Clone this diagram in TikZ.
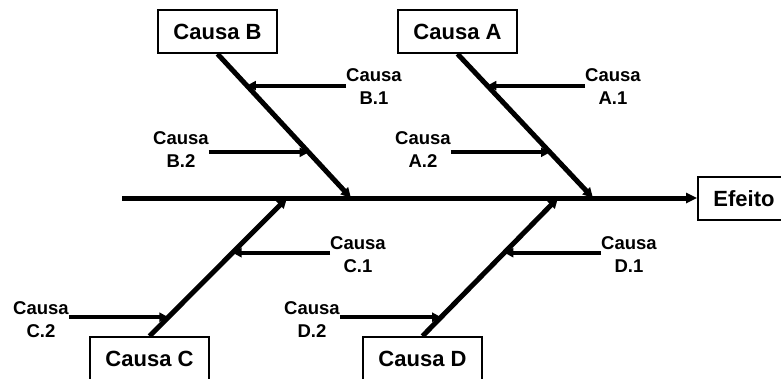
\documentclass[tikz,border=0pt]{standalone}
\usepackage{fontspec}
\setmainfont{Liberation Sans}
\usetikzlibrary{arrows.meta,calc}
\begin{document}
\begin{tikzpicture}[
	x=1pt, y=-1pt,
	font=\bfseries
]
\tikzset{
    boxnode/.style = {rectangle, draw=black, line width=1.8pt, minimum width=119pt, minimum height=43pt, inner sep=0pt, font={\bfseries\fontsize{22}{26}\selectfont}},
    lblnode/.style = {align=center, inner sep=0pt, font={\bfseries\fontsize{18.5}{23}\selectfont}},
    edgespine/.style = {-{Triangle[length=11pt,width=10pt]}, line width=5pt},
    edgebone/.style = {-{Triangle[length=10pt,width=10pt]}, line width=5pt},
    edgetwig/.style = {-{Triangle[length=9pt,width=9pt]}, line width=4pt},
}
\useasboundingbox (0,0) rectangle (781,378);
\clip (0,0) rectangle (781,378);
% boxes
\node[boxnode] at (217.5, 31.5) (cb) {Causa B};
\node[boxnode] at (457.5, 31.5) (ca) {Causa A};
\node[boxnode] at (149.5, 358.5) (cc) {Causa C};
\node[boxnode] at (422.5, 358.5) (cd) {Causa D};
\node[boxnode, minimum width=92pt] at (744, 198.5) (ef) {Efeito};
% spine
\coordinate (tail) at (122, 198);
\coordinate (jb) at (351, 198);
\coordinate (ja) at (593, 198);
\coordinate (jc) at (287, 198);
\coordinate (jd) at (558, 198);
\draw[edgespine] (tail) -- (tail -| ef.west);
%
\draw[edgebone] (cb.south) -- (jb);
\draw[edgebone] (ca.south) -- (ja);
\draw[edgebone] (cc.north) -- (jc);
\draw[edgebone] (cd.north) -- (jd);
% sub causes
\node[lblnode] at (374, 87) (b1) {Causa\\B.1};
\node[lblnode] at (181, 150) (b2) {Causa\\B.2};
\node[lblnode] at (613, 87) (a1) {Causa\\A.1};
\node[lblnode] at (423, 150) (a2) {Causa\\A.2};
\node[lblnode] at (358, 255) (c1) {Causa\\C.1};
\node[lblnode] at (41, 320) (c2) {Causa\\C.2};
\node[lblnode] at (629, 255) (d1) {Causa\\D.1};
\node[lblnode] at (312, 320) (d2) {Causa\\D.2};
%
\coordinate (pb1) at ($(cb.south)!0.22!(jb)$);
\coordinate (pb2) at ($(cb.south)!0.683!(jb)$);
\coordinate (pa1) at ($(ca.south)!0.22!(ja)$);
\coordinate (pa2) at ($(ca.south)!0.683!(ja)$);
\coordinate (pc1) at ($(cc.north)!0.604!(jc)$);
\coordinate (pc2) at ($(cc.north)!0.137!(jc)$);
\coordinate (pd1) at ($(cd.north)!0.604!(jd)$);
\coordinate (pd2) at ($(cd.north)!0.137!(jd)$);
%
\draw[edgetwig] (b1.west |- pb1) -- (pb1);
\draw[edgetwig] (b2.east |- pb2) -- (pb2);
\draw[edgetwig] (a1.west |- pa1) -- (pa1);
\draw[edgetwig] (a2.east |- pa2) -- (pa2);
\draw[edgetwig] (c1.west |- pc1) -- (pc1);
\draw[edgetwig] (c2.east |- pc2) -- (pc2);
\draw[edgetwig] (d1.west |- pd1) -- (pd1);
\draw[edgetwig] (d2.east |- pd2) -- (pd2);
\end{tikzpicture}
\end{document}
